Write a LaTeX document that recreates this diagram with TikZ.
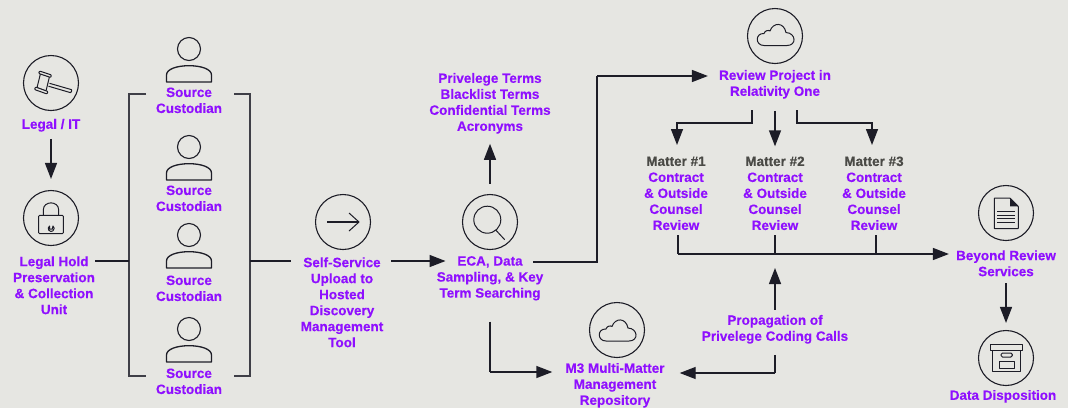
\documentclass[tikz,border=0pt]{standalone}
\usepackage{fontspec}
\setmainfont[BoldFeatures={FakeBold=0.3}]{Liberation Sans}
\usetikzlibrary{arrows.meta,calc}
\definecolor{bgc}{HTML}{E6E6E2}
\definecolor{lnc}{HTML}{1D1D27}
\definecolor{pur}{HTML}{8F0FFF}
\definecolor{gry}{HTML}{4A4A46}
\tikzset{
 lbl/.style={font=\fontsize{13.5}{16}\selectfont\bfseries,text=pur,align=center,inner xsep=7pt,inner ysep=5pt,yshift=-.3pt},
 ring/.style={circle,draw=lnc,line width=1.1pt,minimum size=55pt,inner sep=0pt},
 cn/.style={draw=lnc,line width=1.4pt},
 arr/.style={cn,-{Triangle[length=16pt,width=12pt]}},
 ic/.style={draw=lnc,line width=1pt,line join=round},
 brk/.style={draw=lnc!85!white,line width=1.4pt},
}
\newcommand{\personicon}[2]{%
 \node[circle,draw=lnc,line width=1.1pt,minimum size=23pt,inner sep=0pt] (#2) at (#1) {};
 \draw[ic,line width=1.3pt,shift={(#2)}] (-22.5,33) -- (-22.5,26) .. controls (-22.5,20) and (-12,16.7) .. (0,16.7) .. controls (12,16.7) and (22.5,20) .. (22.5,26) -- (22.5,33) -- cycle;}
\newcommand{\cloudicon}[1]{%
 \draw[ic,shift={(#1)}] (-11,9.5) .. controls (-20,9.5) and (-20,-3) .. (-11,-2.5) .. controls (-10,-6) and (-6,-6) .. (-5,-5) .. controls (-2,-14) and (9,-14) .. (11,-3.5) .. controls (21,-3) and (22,9.5) .. (12,9.5) -- cycle;}
\begin{document}
\begin{tikzpicture}[x=1pt,y=-1pt]
\useasboundingbox (0,0) rectangle (1068,408);
\fill[bgc] (0,0) rectangle (1068,408);
% rings
\node[ring] (cGavel) at (51,83) {};
\node[ring] (cLock) at (51,218) {};
\node[ring] (cArrow) at (343,222) {};
\node[ring] (cSearch) at (490,222) {};
\node[ring] (cCloudA) at (775,36) {};
\node[ring] (cCloudB) at (617,330) {};
\node[ring] (cDoc) at (1006,213) {};
\node[ring] (cBox) at (1006,358) {};
% persons
\personicon{189,49}{p1}
\personicon{189,147}{p2}
\personicon{189,235}{p3}
\personicon{189,329}{p4}
% labels
\node[lbl] (tLegal) at (51,125) {Legal / IT};
\node[lbl] (tHold) at (54,285) {Legal Hold\\Preservation\\\& Collection\\Unit};
\node[lbl] (tS1) at (189,100) {Source\\Custodian};
\node[lbl] (tS2) at (189,198) {Source\\Custodian};
\node[lbl] (tS3) at (189,288) {Source\\Custodian};
\node[lbl] (tS4) at (189,381) {Source\\Custodian};
\node[lbl] (tSelf) at (342,302) {Self-Service\\Upload to\\Hosted\\Discovery\\Management\\Tool};
\node[lbl] (tEca) at (490,278) {ECA, Data\\Sampling, \& Key\\Term Searching};
\node[lbl] (tTerms) at (490,103) {Privelege Terms\\Blacklist Terms\\Confidential Terms\\Acronyms};
\node[lbl] (tRev) at (775,84) {Review Project in\\Relativity One};
\node[lbl] (tM1) at (676,193) {\textcolor{gry}{Matter \#1}\\Contract\\\& Outside\\Counsel\\Review};
\node[lbl] (tM2) at (775,193) {\textcolor{gry}{Matter \#2}\\Contract\\\& Outside\\Counsel\\Review};
\node[lbl] (tM3) at (874,193) {\textcolor{gry}{Matter \#3}\\Contract\\\& Outside\\Counsel\\Review};
\node[lbl] (tBeyond) at (1006,263) {Beyond Review\\Services};
\node[lbl] (tDisp) at (1003,396) {Data Disposition};
\node[lbl] (tM3R) at (615,385) {M3 Multi-Matter\\Management\\Repository};
\node[lbl] (tProp) at (775,329) {Propagation of\\Privelege Coding Calls};
% junctions
\coordinate (blL) at (129,261);
\coordinate (blR) at (250,261);
\coordinate (jEca) at (597,262);
\coordinate (jRev) at (597,76);
\coordinate (jA) at (752,123);
\coordinate (jAe) at (677,123);
\coordinate (jB) at (797,123);
\coordinate (jBe) at (872,123);
\coordinate (bus1) at (678,254);
\coordinate (bus2) at (775,254);
\coordinate (bus3) at (876,254);
\coordinate (jDown) at (490,372);
\coordinate (jProp) at (775,373);
% brackets
\draw[brk] (146,94) -- (129,94) -- (129,376) -- (146,376);
\draw[brk] (234,94) -- (250,94) -- (250,376) -- (234,376);
% connectors
\draw[arr,shorten <=2pt,shorten >=11pt] (tLegal.south) -- (cLock.north);
\draw[cn,shorten <=-7pt] (tHold.east |- blL) -- (blL);
\draw[cn,shorten >=3pt] (blR) -- (tSelf.west |- blR);
\draw[arr,shorten >=-16pt,shorten <=1pt] (tSelf.east |- blR) -- (tEca.west |- blR);
\draw[cn,shorten <=-17pt] (tEca.east |- jEca) -- (jEca) -- (jRev);
\draw[arr,shorten >=4pt] (jRev) -- (tRev.west |- jRev);
\draw[arr,shorten <=10pt,shorten >=5pt] (cSearch.north) -- (tTerms.south);
\draw[cn] (752,110) -- (jA) -- (jAe);
\draw[arr] (jAe) ++(0,-.7) -- (677,145);
\draw[arr,shorten <=7pt,shorten >=5pt] (tRev.south) -- (tM2.north);
\draw[cn] (797,110) -- (jB) -- (jBe);
\draw[arr] (jBe) ++(0,-.7) -- (872,145);
\draw[cn] (tM1.south -| bus1) -- (bus1);
\draw[cn] (tM2.south) -- (bus2);
\draw[cn] (tM3.south -| bus3) -- (bus3);
\draw[arr] (bus1) -- (tBeyond.west |- bus1);
\draw[arr,shorten >=14pt] (tProp.north) -- (bus2);
\draw[cn,shorten <=6pt] (tProp.south) -- (jProp);
\draw[arr,shorten >=8pt] (jProp) -- (tM3R.east |- jProp);
\draw[cn,shorten <=16pt] (tEca.south -| jDown) -- (jDown);
\draw[arr,shorten >=6pt] (jDown) -- (tM3R.west |- jDown);
\draw[arr,shorten <=2pt,shorten >=7pt] (tBeyond.south) -- (cBox.north);
% icons
\begin{scope}[shift={(cGavel)},rounded corners=.8pt]
 \draw[ic] (-1.5,.3) -- (21,6.8) -- (20,9.8) -- (-2.5,3.2);
 \draw[ic] (-10.5,-9.5) -- (-1.5,-6.5) -- (-5,8) -- (-14,4.7) -- cycle;
 \draw[ic,fill=bgc] (-11.5,-12) -- (.5,-8) -- (-.3,-5.5) -- (-12.3,-9.5) -- cycle;
 \draw[ic,fill=bgc] (-15.5,4) -- (-3,8.5) -- (-4,11) -- (-16.5,6.5) -- cycle;
\end{scope}
\begin{scope}[shift={(cLock)}]
 \draw[ic,rounded corners=1pt] (-12.3,-2.7) rectangle (12.3,15.7);
 \draw[ic] (-7.7,-2.7) -- (-7.7,-8) .. controls (-7.7,-17.5) and (7.7,-17.5) .. (7.7,-8) -- (7.7,-2.7);
 \draw[ic] (-1.5,8) arc[start angle=235,end angle=-55,radius=3] -- (1.3,11) -- (-1.3,11) -- cycle;
\end{scope}
\begin{scope}[shift={(cArrow)}]
 \draw[ic,line width=1.4pt] (-15.7,0) -- (16,0);
 \draw[ic] (6,-9) -- (16,0) -- (6,9);
\end{scope}
\begin{scope}[shift={(cSearch)}]
 \draw[ic] (-2.7,-2.3) circle (13.5);
 \draw[ic] (6,8.3) -- (14.7,17.7);
\end{scope}
\cloudicon{cCloudA}
\cloudicon{$(cCloudB)+(0,1.5)$}
\begin{scope}[shift={(cDoc)}]
 \draw[ic,rounded corners=.6pt] (-11.7,-15) -- (4,-15) -- (12.3,-6.7) -- (12.3,15.7) -- (-11.7,15.7) -- cycle;
 \fill[lnc] (4,-15) -- (12.3,-6.7) -- (4,-6.7) -- cycle;
 \foreach \yy in {-1.7,2.3,5.7,9.3}{\draw[ic,line width=.9pt] (-8.7,\yy) -- (9,\yy);}
\end{scope}
\begin{scope}[shift={(cBox)}]
 \draw[ic] (-15.3,-13.3) rectangle (16.3,-7.7);
 \draw[ic] (-13.3,-7.7) -- (-13.3,13) -- (14,13) -- (14,-7.7);
 \draw[ic,rounded corners=1.5pt] (-5,-5) rectangle (6.3,-1);
 \draw[ic] (-7,3) rectangle (8,10);
\end{scope}
\end{tikzpicture}
\end{document}
